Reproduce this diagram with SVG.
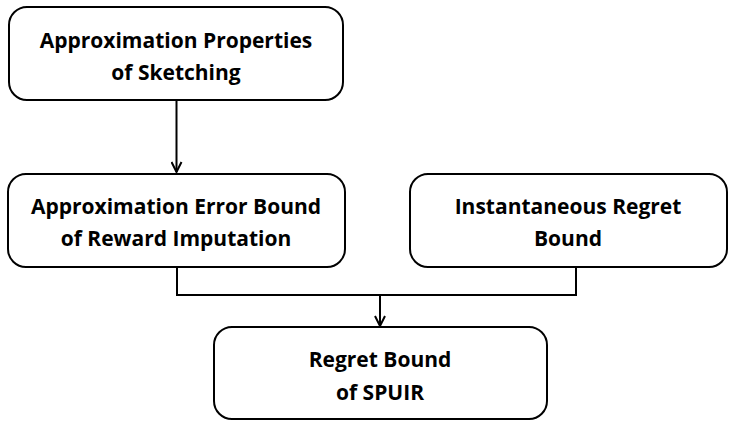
<svg xmlns="http://www.w3.org/2000/svg" width="733" height="421" viewBox="0 0 733 421">
<style>
.box{fill:#fff;stroke:#000;stroke-width:2}
.t{font-family:"Open Sans",Lato,"Liberation Sans",sans-serif;font-weight:bold;font-size:21px;text-anchor:middle;fill:#000}
.c{fill:none;stroke:#000;stroke-width:2}
</style>
<defs>
<marker id="ah" viewBox="0 0 12 12" refX="11" refY="6" markerWidth="12" markerHeight="12" markerUnits="userSpaceOnUse" orient="auto">
<path d="M1,1 L11,6 L1,11" fill="none" stroke="#000" stroke-width="2"/>
</marker>
</defs>
<g id="connectors">
<line class="c" x1="176.5" y1="100" x2="176.5" y2="172" marker-end="url(#ah)"/>
<polyline class="c" points="177,267 177,295 576,295 576,267"/>
<line class="c" x1="380" y1="295" x2="380" y2="326" marker-end="url(#ah)"/>
</g>
<g id="n1">
<rect class="box" x="9" y="7" width="334" height="93" rx="18"/>
<text class="t" x="176" y="48">Approximation Properties</text>
<text class="t" x="176" y="80">of Sketching</text>
</g>
<g id="n2">
<rect class="box" x="8" y="174" width="337" height="93" rx="18"/>
<text class="t" x="176" y="214">Approximation Error Bound</text>
<text class="t" x="176" y="246">of Reward Imputation</text>
</g>
<g id="n3">
<rect class="box" x="410" y="174" width="317" height="93" rx="18"/>
<text class="t" x="568" y="214">Instantaneous Regret</text>
<text class="t" x="568" y="246">Bound</text>
</g>
<g id="n4">
<rect class="box" x="214" y="327" width="333" height="92" rx="18"/>
<text class="t" x="380" y="367">Regret Bound</text>
<text class="t" x="380" y="400">of SPUIR</text>
</g>
</svg>
